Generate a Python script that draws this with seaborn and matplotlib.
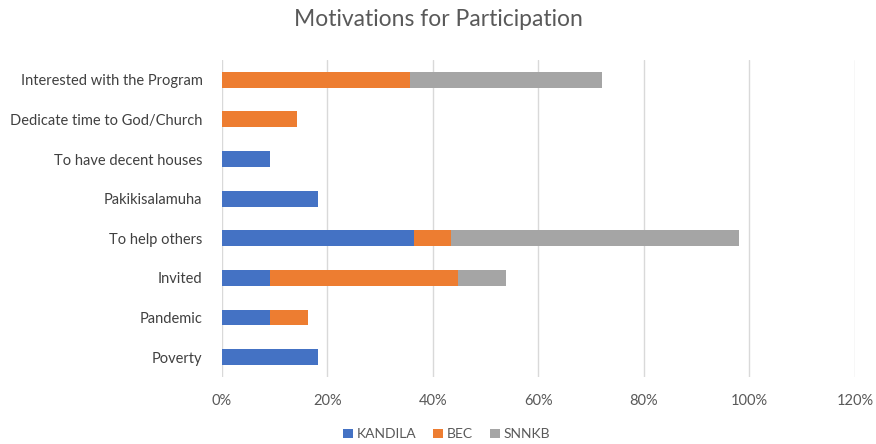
import numpy as np
import pandas as pd
import matplotlib
matplotlib.use("Agg")
import matplotlib.pyplot as plt
import seaborn as sns
from matplotlib.patches import Patch

# Motivation categories, top to bottom
CATEGORIES = [
    "Interested with the Program",
    "Dedicate time to God/Church",
    "To have decent houses",
    "Pakikisalamuha",
    "To help others",
    "Invited",
    "Pandemic",
    "Poverty",
]

# Share of respondents (%) per organisation
KANDILA = [0, 0, 9.09, 18.18, 36.36, 9.09, 9.09, 18.18]
BEC = [35.71, 14.29, 0, 0, 7.14, 35.71, 7.14, 0]
SNNKB = [36.36, 0, 0, 0, 54.55, 9.09, 0, 0]

SERIES = ["KANDILA", "BEC", "SNNKB"]
COLORS = ["#4472C4", "#ED7D31", "#A5A5A5"]
XTICKS = [0, 20, 40, 60, 80, 100, 120]

sns.set_theme(style="white")
plt.rcParams["font.family"] = ["Lato", "DejaVu Sans"]

df = pd.DataFrame({"category": CATEGORIES, "KANDILA": KANDILA, "BEC": BEC, "SNNKB": SNNKB})
# cumulative totals so the stacked segments can be overlaid
df["cum_KANDILA"] = df["KANDILA"]
df["cum_BEC"] = df["cum_KANDILA"] + df["BEC"]
df["cum_SNNKB"] = df["cum_BEC"] + df["SNNKB"]

fig = plt.figure(figsize=(8.76, 4.44), dpi=100)
ax = fig.add_axes([0.2534, 0.151, 0.7226, 0.714])

# draw from the largest cumulative total down so each segment shows
for name, color in reversed(list(zip(SERIES, COLORS))):
    sns.barplot(data=df, y="category", x="cum_" + name, order=CATEGORIES,
                color=color, width=0.4, saturation=1, ax=ax, orient="h",
                linewidth=0, edgecolor="none")

ax.set_xlim(0, 120)
ax.set_xticks(XTICKS)
ax.set_xticklabels([f"{t}%" for t in XTICKS], fontsize=10.5, color="#595959")
ax.tick_params(axis="y", labelsize=10.5, labelcolor="#404040", length=0, pad=14)
ax.tick_params(axis="x", length=0, pad=12)
ax.set_xlabel("")
ax.set_ylabel("")
ax.grid(axis="x", color="#D9D9D9", linewidth=1)
ax.set_axisbelow(True)
for s in ax.spines.values():
    s.set_visible(False)

fig.suptitle("Motivations for Participation", fontsize=16.5, color="#595959", y=0.98)

handles = [Patch(facecolor=c, edgecolor="none", label=n) for n, c in zip(SERIES, COLORS)]
fig.legend(handles=handles, loc="lower center", bbox_to_anchor=(0.51, -0.02), ncol=3,
           frameon=False, fontsize=10, handlelength=0.7, handleheight=0.7,
           handletextpad=0.3, columnspacing=1.2, labelcolor="#595959")

fig.savefig("out.png", dpi=100)
